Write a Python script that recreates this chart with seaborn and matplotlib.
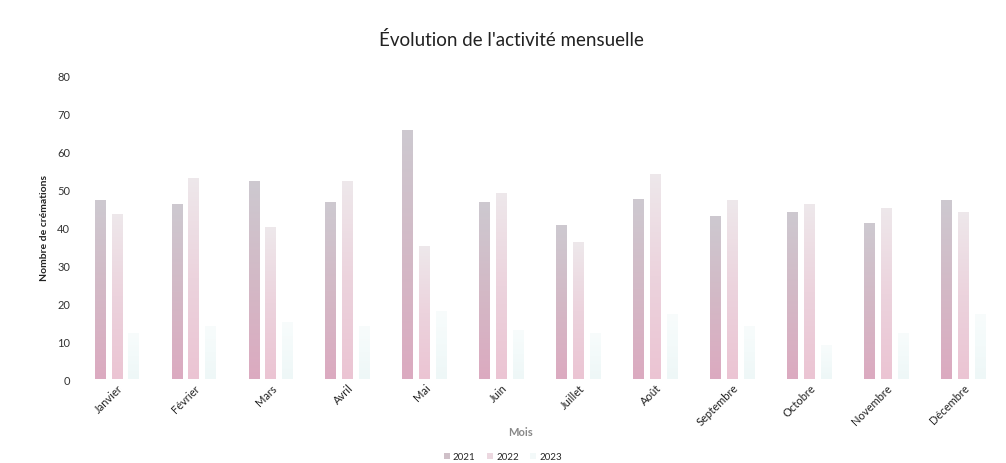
import numpy as np
import pandas as pd
import seaborn as sns
import matplotlib.pyplot as plt
from matplotlib.colors import LinearSegmentedColormap
from matplotlib.patches import Patch

# Data
mois = ["Janvier", "Février", "Mars", "Avril", "Mai", "Juin",
        "Juillet", "Août", "Septembre", "Octobre", "Novembre", "Décembre"]
annees = ["2021", "2022", "2023"]
v2021 = [47, 46, 52, 46.5, 65.5, 46.5, 40.5, 47.5, 43, 44, 41, 47]
v2022 = [43.5, 53, 40, 52, 35, 49, 36, 54, 47, 46, 45, 44]
v2023 = [12, 14, 15, 14, 18, 13, 12, 17, 14, 9, 12, 17]

df = pd.DataFrame({
    "Mois": mois * 3,
    "Année": [a for a in annees for _ in mois],
    "Valeur": v2021 + v2022 + v2023,
})

sns.set_theme(style="white")
plt.rcParams["font.family"] = ["Lato", "DejaVu Sans"]

fig = plt.figure(figsize=(10.06, 4.64), dpi=100)
ax = fig.add_axes([0.078, 0.181, 0.918, 0.655])

palette = {"2021": "#cfaabb", "2022": "#e8cfd9", "2023": "#eaf5f5"}
sns.barplot(data=df, x="Mois", y="Valeur", hue="Année", palette=palette,
            width=0.66, gap=0.36, ax=ax, legend=False, errorbar=None)

# gradient fill: pink at the bottom, grey at the top
gradients = {
    "2021": ["#dcaac0", "#d3b9c6", "#cdc9d0"],
    "2022": ["#ebc4d3", "#ecd3dd", "#eee8eb"],
    "2023": ["#eef7f7", "#f3fafa", "#f8fcfc"],
}
grad = np.linspace(0, 1, 256).reshape(-1, 1)
for annee, cont in zip(annees, ax.containers):
    cmap = LinearSegmentedColormap.from_list(annee, gradients[annee])
    for bar in cont:
        x, w, h = bar.get_x(), bar.get_width(), bar.get_height()
        im = ax.imshow(grad, extent=[x, x + w, 0, h], origin="lower",
                       aspect="auto", cmap=cmap, zorder=2)
        im.set_clip_path(bar)
        bar.set_facecolor("none")
        bar.set_edgecolor("none")

ax.set_xlim(-0.5, 11.5)
ax.set_ylim(0, 80)
ax.set_yticks(range(0, 81, 10))
ax.tick_params(axis="y", labelsize=8, labelcolor="#333333", length=0, pad=6)
ax.tick_params(axis="x", labelsize=8, labelcolor="#222222", length=0, pad=2)
plt.setp(ax.get_xticklabels(), rotation=45, ha="right", rotation_mode="anchor")
sns.despine(ax=ax, left=True, bottom=True)
ax.grid(False)

ax.set_ylabel("Nombre de crémations", fontsize=7.5, fontweight="bold",
              color="#222222", labelpad=6)
ax.set_xlabel("")
fig.text(0.517, 1 - 433 / 464, "Mois", fontsize=8, fontweight="bold",
         color="#888888", ha="center", va="center")
fig.text(0.508, 1 - 40 / 464, "Évolution de l'activité mensuelle",
         fontsize=13.5, color="#222222", ha="center", va="center")

handles = [Patch(facecolor=c, edgecolor="none") for c in ["#cfc0c8", "#ecd8e0", "#f3f9f9"]]
fig.legend(handles, annees, loc="center", bbox_to_anchor=(0.5, 1 - 458 / 464),
           ncol=3, frameon=False, fontsize=7, handlelength=0.6, handleheight=0.6,
           handletextpad=0.3, columnspacing=1.2)

fig.savefig("out.png", dpi=100)
